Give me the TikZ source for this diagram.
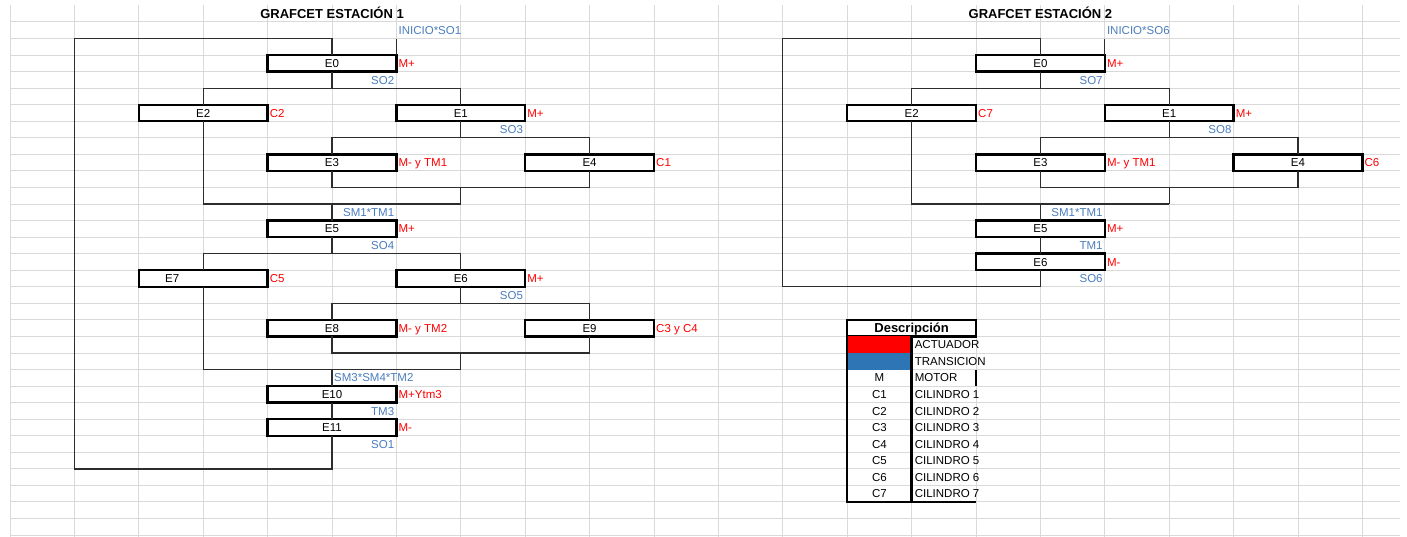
\documentclass[tikz,border=0pt]{standalone}
\usepackage{fontspec}
\setmainfont{Liberation Sans}
\definecolor{actred}{RGB}{255,0,0}
\definecolor{trblue}{RGB}{74,126,190}
\definecolor{fillblue}{RGB}{46,117,182}
\definecolor{gridc}{RGB}{217,217,217}
\definecolor{linec}{RGB}{45,45,45}
\tikzset{
  gridline/.style={draw=gridc, line width=1pt},
  conn/.style={draw=linec, line width=1.3pt},
  stepbox/.style={draw=black, line width=2.4pt, fill=white, minimum width=128.8pt, minimum height=16.55pt,
    inner sep=0pt, outer sep=0pt, font=\fontsize{11.5}{12}\selectfont, text height=8.2pt, text depth=0pt},
  txt/.style={font=\fontsize{11.5}{12}\selectfont, text height=8.2pt, text depth=0pt, inner sep=2pt},
  act/.style={txt, text=actred, anchor=west},
  trR/.style={txt, text=trblue, anchor=east},
  trL/.style={txt, text=trblue, anchor=west},
  ttl/.style={font=\bfseries\fontsize{13}{14}\selectfont, text height=9.3pt, text depth=0pt, inner sep=0pt},
  thickb/.style={draw=black, line width=2.4pt},
  legL/.style={txt, anchor=west, inner sep=3pt},
  legC/.style={txt},
}
\begin{document}
\begin{tikzpicture}
\useasboundingbox[fill=white] (0pt,0pt) rectangle (1407pt,-537pt);
\begin{scope}[shift={(10pt,-22pt)}, x=64.4pt, y=-16.55pt]
% spreadsheet grid
\foreach \j in {0,...,21} \draw[gridline] (\j,-1) -- (\j,31.1);
\foreach \k in {0,...,31} \draw[gridline] (0,\k) -- (21.59,\k);

% ================= STATION 1 =================
\node[ttl] (title1) at (5,-0.5) {GRAFCET ESTACIÓN 1};
\node[stepbox] (E0) at (5,2.5) {E0};
\node[stepbox] (E2) at (3,5.5) {E2};
\node[stepbox] (E1) at (7,5.5) {E1};
\node[stepbox] (E3) at (5,8.5) {E3};
\node[stepbox] (E4) at (9,8.5) {E4};
\node[stepbox] (E5) at (5,12.5) {E5};
\node[stepbox] (E7) at (3,15.5) {};
\node[txt] (E7lab) at ([xshift=-31pt]E7.center) {E7};
\node[stepbox] (E6) at (7,15.5) {E6};
\node[stepbox] (E8) at (5,18.5) {E8};
\node[stepbox] (E9) at (9,18.5) {E9};
\node[stepbox] (E10) at (5,22.5) {E10};
\node[stepbox] (E11) at (5,24.5) {E11};

\coordinate (lp1) at (1,27);
\coordinate (lp2) at (1,1);
\coordinate (s1) at (6,1);
\coordinate (a1) at (3,4); \coordinate (a2) at (7,4);
\coordinate (b1) at (5,7); \coordinate (b2) at (9,7);
\coordinate (c1) at (5,10); \coordinate (c2) at (9,10);
\coordinate (m1) at (7,10); \coordinate (m2) at (7,11); \coordinate (j1) at (3,11);
\coordinate (a3) at (3,14); \coordinate (a4) at (7,14);
\coordinate (b3) at (5,17); \coordinate (b4) at (9,17);
\coordinate (c3) at (5,20); \coordinate (c4) at (9,20);
\coordinate (m3) at (7,20); \coordinate (m4) at (7,21); \coordinate (j2) at (3,21);

\draw[conn] (E11.south) |- (lp1) -- (lp2) -| (E0.north);
\draw[conn] (E0.north east) -- (s1);
\draw[conn] (E0.south) -- (E0.south |- a1);
\draw[conn] (E2.north) -- (a1) -- (a2) -- (E1.north);
\draw[conn] (E1.south) -- (E1.south |- b1);
\draw[conn] (E3.north) -- (b1) -- (b2) -- (E4.north);
\draw[conn] (E3.south) -- (c1) -- (c2) -- (E4.south);
\draw[conn] (m1) -- (m2);
\draw[conn] (E2.south) -- (j1) -- (m2);
\draw[conn] (E5.north) -- (E5.north |- j1);
\draw[conn] (E5.south) -- (E5.south |- a3);
\draw[conn] (E7.north) -- (a3) -- (a4) -- (E6.north);
\draw[conn] (E6.south) -- (E6.south |- b3);
\draw[conn] (E8.north) -- (b3) -- (b4) -- (E9.north);
\draw[conn] (E8.south) -- (c3) -- (c4) -- (E9.south);
\draw[conn] (m3) -- (m4);
\draw[conn] (E7.south) -- (j2) -- (m4);
\draw[conn] (E10.north) -- (E10.north |- j2);
\draw[conn] (E10.south) -- (E11.north);

% actions
\node[act] (x0) at (E0.east) {M+};
\node[act] (x2) at (E2.east) {C2};
\node[act] (x1) at (E1.east) {M+};
\node[act] (x3) at (E3.east) {M- y TM1};
\node[act] (x4) at (E4.east) {C1};
\node[act] (x5) at (E5.east) {M+};
\node[act] (x7) at (E7.east) {C5};
\node[act] (x6) at (E6.east) {M+};
\node[act] (x8) at (E8.east) {M- y TM2};
\node[act] (x9) at (E9.east) {C3 y C4};
\node[act] (x10) at (E10.east) {M+Ytm3};
\node[act] (x11) at (E11.east) {M-};
% transitions
\node[trL] (tr0) at (6,0.5) {INICIO*SO1};
\node[trR] (tr1) at (6,3.5) {SO2};
\node[trR] (tr2) at (8,6.5) {SO3};
\node[trR] (tr3) at (6,11.5) {SM1*TM1};
\node[trR] (tr4) at (6,13.5) {SO4};
\node[trR] (tr5) at (8,16.5) {SO5};
\node[trL] (tr6) at (5,21.5) {SM3*SM4*TM2};
\node[trR] (tr7) at (6,23.5) {TM3};
\node[trR] (tr8) at (6,25.5) {SO1};

% ================= STATION 2 =================
\node[ttl] (title2) at (16,-0.5) {GRAFCET ESTACIÓN 2};
\node[stepbox] (F0) at (16,2.5) {E0};
\node[stepbox] (F2) at (14,5.5) {E2};
\node[stepbox] (F1) at (18,5.5) {E1};
\node[stepbox] (F3) at (16,8.5) {E3};
\node[stepbox] (F4) at (20,8.5) {E4};
\node[stepbox] (F5) at (16,12.5) {E5};
\node[stepbox] (F6) at (16,14.5) {E6};

\coordinate (lq1) at (12,16);
\coordinate (lq2) at (12,1);
\coordinate (s2) at (17,1);
\coordinate (p1) at (14,4); \coordinate (p2) at (18,4);
\coordinate (q1) at (16,7); \coordinate (q2) at (20,7);
\coordinate (u1) at (16,10); \coordinate (u2) at (20,10);
\coordinate (n1) at (18,10); \coordinate (n2) at (18,11); \coordinate (k1) at (14,11);

\draw[conn] (F6.south) |- (lq1) -- (lq2) -| (F0.north);
\draw[conn] (F0.north east) -- (s2);
\draw[conn] (F0.south) -- (F0.south |- p1);
\draw[conn] (F2.north) -- (p1) -- (p2) -- (F1.north);
\draw[conn] (F1.south) -- (F1.south |- q1);
\draw[conn] (F3.north) -- (q1) -- (q2) -- (F4.north);
\draw[conn] (F3.south) -- (u1) -- (u2) -- (F4.south);
\draw[conn] (n1) -- (n2);
\draw[conn] (F2.south) -- (k1) -- (n2);
\draw[conn] (F5.north) -- (F5.north |- k1);
\draw[conn] (F5.south) -- (F6.north);

\node[act] (y0) at (F0.east) {M+};
\node[act] (y2) at (F2.east) {C7};
\node[act] (y1) at (F1.east) {M+};
\node[act] (y3) at (F3.east) {M- y TM1};
\node[act] (y4) at (F4.east) {C6};
\node[act] (y5) at (F5.east) {M+};
\node[act] (y6) at (F6.east) {M-};

\node[trL] (ts0) at (17,0.5) {INICIO*SO6};
\node[trR] (ts1) at (17,3.5) {SO7};
\node[trR] (ts2) at (19,6.5) {SO8};
\node[trR] (ts3) at (17,11.5) {SM1*TM1};
\node[trR] (ts4) at (17,13.5) {TM1};
\node[trR] (ts5) at (17,15.5) {SO6};

% ================= LEGEND =================
\node[stepbox, font=\bfseries\fontsize{13}{14}\selectfont, text height=9.3pt] (desc) at (14,18.5) {Descripción};
\fill[actred] (13,19) rectangle (14,20);
\fill[fillblue] (13,20) rectangle (14,21);
\draw[thickb] (13,19) -- (13,29) -- (15,29);
\draw[thickb] (14,19) -- (14,29);
\draw[thickb] (15,21) -- (15,22);

\node[legL] (l1) at (14,19.5) {ACTUADOR};
\node[legL] (l2) at (14,20.5) {TRANSICION};
\node[legC] (k3) at (13.5,21.5) {M};
\node[legL] (l3) at (14,21.5) {MOTOR};
\foreach \i in {1,...,7} {
  \node[legC] (kc\i) at (13.5,21.5+\i) {C\i};
  \node[legL] (lc\i) at (14,21.5+\i) {CILINDRO \i};
}
\end{scope}
\end{tikzpicture}
\end{document}
